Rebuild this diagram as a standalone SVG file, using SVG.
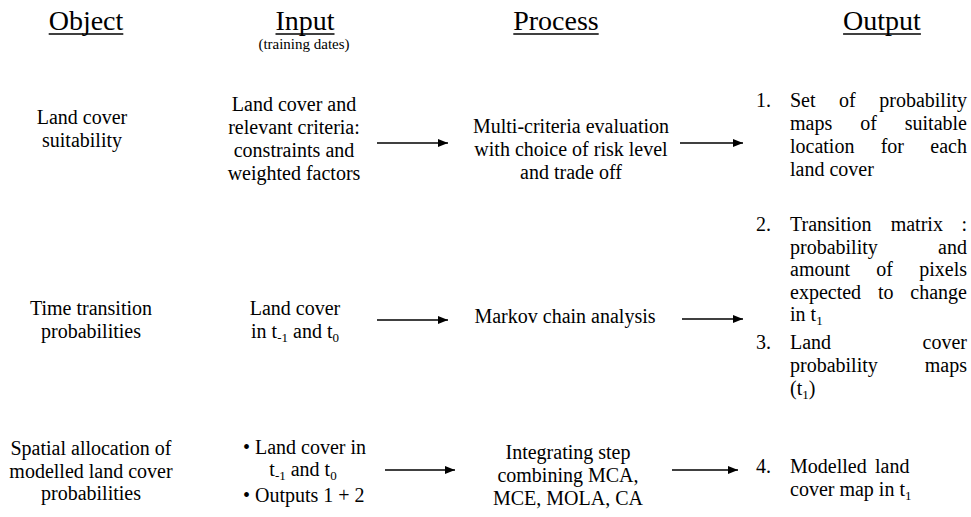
<svg xmlns="http://www.w3.org/2000/svg" width="971" height="517" viewBox="0 0 971 517">
<style>
text{font-family:"Liberation Serif","Times New Roman",serif;fill:#000;font-size:20px}
.h{font-size:28px}
.sm{font-size:15px}
.c{text-anchor:middle}
.e{text-anchor:end}
.ul{stroke:#000;stroke-width:1.3}
.arr{stroke:#000;stroke-width:1.4;fill:none;marker-end:url(#ah)}
</style>
<defs>
<marker id="ah" markerWidth="10" markerHeight="8" refX="10" refY="4" orient="auto" markerUnits="userSpaceOnUse"><path d="M0,0 L10,4 L0,8 z" fill="#000"/></marker>
</defs>
<rect width="971" height="517" fill="#fff"/>
<g id="headers">
<text class="h c" x="86" y="30">Object</text><line class="ul" x1="48.7" y1="34" x2="123.3" y2="34"/>
<text class="h c" x="305" y="30">Input</text><line class="ul" x1="275.5" y1="34" x2="334.5" y2="34"/>
<text class="sm c" x="304" y="49">(training dates)</text>
<text class="h c" x="556" y="30">Process</text><line class="ul" x1="513.3" y1="34" x2="598.7" y2="34"/>
<text class="h c" x="882" y="30">Output</text><line class="ul" x1="843.1" y1="34" x2="920.9" y2="34"/>
</g>
<g id="obj1"><text class="c" x="82" y="124">Land cover</text><text class="c" x="82" y="147">suitability</text></g>
<g id="in1"><text class="c" x="294" y="111">Land cover and</text><text class="c" x="294" y="134">relevant criteria:</text><text class="c" x="294" y="157">constraints and</text><text class="c" x="294" y="180">weighted factors</text></g>
<g id="proc1"><text class="c" x="571" y="133">Multi-criteria evaluation</text><text class="c" x="571" y="156">with choice of risk level</text><text class="c" x="571" y="179">and trade off</text></g>
<g id="out1">
<text x="756" y="107">1.</text>
<text x="790" y="107">Set</text><text x="839.1" y="107">of</text><text class="e" x="967" y="107">probability</text>
<text x="790" y="130">maps</text><text x="860.2" y="130">of</text><text class="e" x="967" y="130">suitable</text>
<text x="790" y="153">location</text><text x="880.7" y="153">for</text><text class="e" x="967" y="153">each</text>
<text x="790" y="176">land cover</text>
</g>
<g id="obj2"><text class="c" x="91" y="315">Time transition</text><text class="c" x="91" y="338">probabilities</text></g>
<g id="in2"><text class="c" x="295" y="315">Land cover</text><text class="c" x="295" y="338">in t<tspan font-size="13" dy="4">-1</tspan><tspan dy="-4"> and t</tspan><tspan font-size="13" dy="4">0</tspan></text></g>
<g id="proc2"><text class="c" x="565" y="323">Markov chain analysis</text></g>
<g id="out2">
<text x="756" y="231">2.</text>
<text x="790" y="231">Transition</text><text x="890.7" y="231">matrix</text><text class="e" x="967" y="231">:</text>
<text x="790" y="254">probability</text><text class="e" x="967" y="254">and</text>
<text x="790" y="276">amount</text><text x="876.3" y="276">of</text><text class="e" x="967" y="276">pixels</text>
<text x="790" y="299">expected</text><text x="878" y="299">to</text><text class="e" x="967" y="299">change</text>
<text x="790" y="321">in t<tspan font-size="13" dy="4">1</tspan></text>
</g>
<g id="out3">
<text x="756" y="349">3.</text>
<text x="790" y="349">Land</text><text class="e" x="967" y="349">cover</text>
<text x="790" y="372">probability</text><text class="e" x="967" y="372">maps</text>
<text x="790" y="395">(t<tspan font-size="13" dy="4">1</tspan><tspan dy="-4">)</tspan></text>
</g>
<g id="obj3"><text class="c" x="91" y="455">Spatial allocation of</text><text class="c" x="91" y="478">modelled land cover</text><text class="c" x="91" y="500">probabilities</text></g>
<g id="in3"><text x="243" y="454">• Land cover in</text><text class="c" x="303" y="476">t<tspan font-size="13" dy="4">-1</tspan><tspan dy="-4"> and t</tspan><tspan font-size="13" dy="4">0</tspan></text><text x="243" y="502">• Outputs 1 + 2</text></g>
<g id="proc3"><text class="c" x="568" y="459">Integrating step</text><text class="c" x="568" y="482">combining MCA,</text><text class="c" x="568" y="505">MCE, MOLA, CA</text></g>
<g id="out4">
<text x="756" y="473">4.</text>
<text x="790" y="473">Modelled</text><text x="875" y="473">land</text>
<text x="790" y="496">cover map in t<tspan font-size="13" dy="4">1</tspan></text>
</g>
<g id="connectors">
<line class="arr" x1="377" y1="143" x2="448" y2="143"/>
<line class="arr" x1="680" y1="143" x2="743" y2="143"/>
<line class="arr" x1="377" y1="320" x2="448" y2="320"/>
<line class="arr" x1="682" y1="319" x2="743" y2="319"/>
<line class="arr" x1="385" y1="470" x2="455" y2="470"/>
<line class="arr" x1="672" y1="470" x2="738" y2="470"/>
</g>
</svg>
